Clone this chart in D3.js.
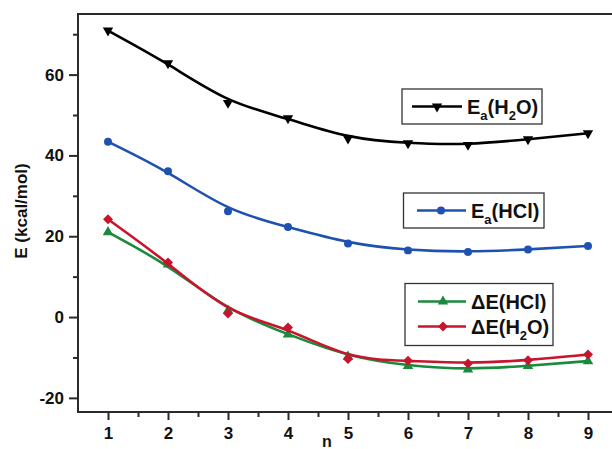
<!DOCTYPE html>
<html><head><meta charset="utf-8">
<script src="https://cdn.jsdelivr.net/npm/d3@7"></script>
<style>
html,body{margin:0;padding:0;background:#fff;}
svg{display:block;font-family:"Liberation Sans",Arial,sans-serif;font-weight:bold;}
</style></head>
<body>
<svg id="chart" width="612" height="449"></svg>
<script>
const nValues = [1, 2, 3, 4, 5, 6, 7, 8, 9];
const eaH2O  = [70.9, 62.8, 53.0, 49.2, 44.2, 43.0, 42.6, 44.0, 45.5];
const eaHCl  = [43.4, 36.1, 26.2, 22.3, 18.2, 16.5, 16.1, 16.7, 17.6];
const dEHCl  = [21.0, 13.0, 1.6, -4.3, -9.8, -12.1, -13.0, -12.1, -10.9];
const dEH2O  = [24.2, 13.5, 0.9, -2.6, -10.4, -10.8, -11.5, -10.7, -9.3];
const xTicks = [1, 2, 3, 4, 5, 6, 7, 8, 9];
const xMinor = [1.5, 2.5, 3.5, 4.5, 5.5, 6.5, 7.5, 8.5];
const yTicks = [-20, 0, 20, 40, 60];
const yMinor = [-10, 10, 30, 50, 70];

(function () {
const svg = d3.select("#chart");
const pL = 78, pR = 618, pT = 14, pB = 412;
const x = d3.scaleLinear().domain([0.5, 9.5]).range([pL, pR]);
const y = d3.scaleLinear().domain([-23.5, 75]).range([pB, pT]);
const fmt = d => String(d);

const axisColor = "#2a2a2a";

// top frame line
svg.append("line").attr("x1", pL).attr("x2", 612).attr("y1", pT).attr("y2", pT)
  .attr("stroke", axisColor).attr("stroke-width", 2);

// x axis
const gx = svg.append("g").attr("transform", `translate(0,${pB})`);
gx.call(d3.axisBottom(x).tickValues(xTicks).tickSize(8).tickSizeOuter(0).tickPadding(7).tickFormat(fmt));
const gxm = svg.append("g").attr("transform", `translate(0,${pB})`);
gxm.call(d3.axisBottom(x).tickValues(xMinor).tickSize(5).tickSizeOuter(0).tickFormat(""));
gxm.select(".domain").remove();
gx.select(".domain").remove();
svg.append("line").attr("x1", pL - 1).attr("x2", 612).attr("y1", pB).attr("y2", pB)
  .attr("stroke", axisColor).attr("stroke-width", 2);

// y axis
const gy = svg.append("g").attr("transform", `translate(${pL},0)`);
gy.call(d3.axisLeft(y).tickValues(yTicks).tickSize(9).tickSizeOuter(0).tickPadding(5).tickFormat(fmt));
const gym = svg.append("g").attr("transform", `translate(${pL},0)`);
gym.call(d3.axisLeft(y).tickValues(yMinor).tickSize(5).tickSizeOuter(0).tickFormat(""));
gym.select(".domain").remove();
gy.select(".domain").remove();
svg.append("line").attr("x1", pL).attr("x2", pL).attr("y1", pT - 1).attr("y2", pB + 1)
  .attr("stroke", axisColor).attr("stroke-width", 2);

svg.selectAll(".tick line").attr("stroke", axisColor).attr("stroke-width", 2);
svg.selectAll(".tick text").attr("fill", "#111").style("font-size", "17px")
  .style("font-family", '"Liberation Sans",Arial,sans-serif').style("font-weight", "bold");

// axis titles
svg.append("text").attr("transform", `translate(27,211) rotate(-90)`)
  .attr("text-anchor", "middle").attr("font-size", 17).attr("fill", "#111").text("E (kcal/mol)");
svg.append("text").attr("x", 327).attr("y", 447).attr("text-anchor", "middle")
  .attr("font-size", 16).attr("fill", "#111").text("n");

// series
const series = [
  {vals: eaH2O, color: "#000000", sym: d3.symbolTriangle, rot: 180, size: 46},
  {vals: eaHCl, color: "#1f52b0", sym: d3.symbolCircle, rot: 0, size: 50},
  {vals: dEHCl, color: "#1a8a3c", sym: d3.symbolTriangle, rot: 0, size: 48},
  {vals: dEH2O, color: "#c8152e", sym: d3.symbolSquare, rot: 45, size: 50}
];
svg.append("clipPath").attr("id", "clip").append("rect")
  .attr("x", pL).attr("y", pT).attr("width", pR - pL).attr("height", pB - pT);
const plot = svg.append("g").attr("clip-path", "url(#clip)");
const line = d3.line().x((d, i) => x(nValues[i])).y(d => y(d)).curve(d3.curveBasis);
series.forEach(s => {
  plot.append("path").attr("d", line(s.vals)).attr("fill", "none")
    .attr("stroke", s.color).attr("stroke-width", 2.6);
  plot.selectAll(null).data(s.vals).enter().append("path")
    .attr("d", d3.symbol().type(s.sym).size(s.size))
    .attr("transform", (d, i) => `translate(${x(nValues[i])},${y(d)}) rotate(${s.rot})`)
    .attr("fill", s.color);
});

// legends
function legendEntry(g, cx, cy, x1, x2, s, parts) {
  g.append("line").attr("x1", x1).attr("x2", x2).attr("y1", cy).attr("y2", cy)
    .attr("stroke", s.color).attr("stroke-width", 2.6);
  g.append("path").attr("d", d3.symbol().type(s.sym).size(s.size))
    .attr("transform", `translate(${cx},${cy}) rotate(${s.rot})`).attr("fill", s.color);
  const t = g.append("text").attr("x", x2 + 5).attr("y", cy + 7).attr("font-size", 20).attr("fill", "#111");
  let shift = 0;
  parts.forEach(p => {
    const ts = t.append("tspan").text(p.t);
    if (p.sub) {
      ts.attr("font-size", 13).attr("dy", 6 - shift);
      shift = 6;
    } else {
      ts.attr("dy", -shift);
      shift = 0;
    }
  });
}
function box(x0, y0, w, h) {
  svg.append("rect").attr("x", x0).attr("y", y0).attr("width", w).attr("height", h)
    .attr("fill", "#fff").attr("stroke", "#333").attr("stroke-width", 1.3);
}
box(402, 89, 140, 35);
box(403.5, 193, 140.5, 35);
box(405, 283.5, 148, 62);
const lg = svg.append("g");
legendEntry(lg, 437, 106.5, 412, 462, series[0],
  [{t: "E"}, {t: "a", sub: true}, {t: "(H"}, {t: "2", sub: true}, {t: "O)"}]);
legendEntry(lg, 441, 210.5, 417, 466, series[1],
  [{t: "E"}, {t: "a", sub: true}, {t: "(HCl)"}]);
legendEntry(lg, 443, 301.5, 418, 466, series[2], [{t: "\u0394E(HCl)"}]);
legendEntry(lg, 443, 326.5, 418, 466, series[3],
  [{t: "\u0394E(H"}, {t: "2", sub: true}, {t: "O)"}]);
})();
</script>
</body></html>
